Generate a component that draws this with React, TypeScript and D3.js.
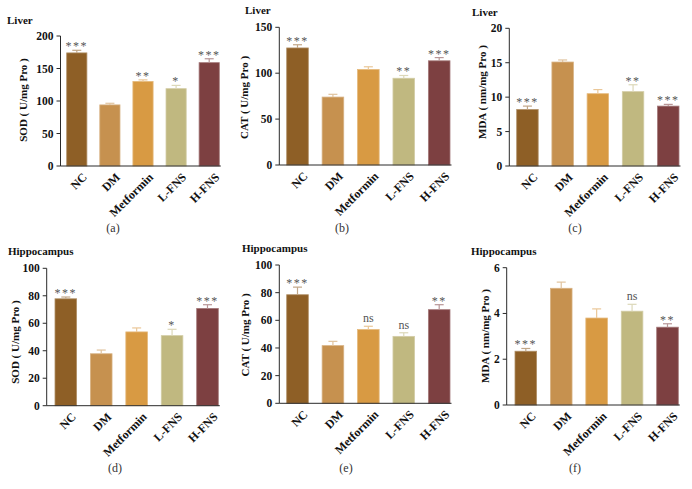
import React from "react";
import * as d3 from "d3";

const categories = ["NC", "DM", "Metformin", "L-FNS", "H-FNS"];
const barColors = ["#8E5F26", "#C6914F", "#D89A43", "#C0B880", "#7D4041"];

const liverSOD = [174, 94, 130, 119, 159];
const liverSODErr = [4, 2.5, 2.5, 5, 6];
const liverSODSig = ["***", "", "**", "*", "***"];

const liverCAT = [127.5, 74, 104, 94.5, 113.5];
const liverCATErr = [3.5, 3, 3, 3, 3.5];
const liverCATSig = ["***", "", "", "**", "***"];

const liverMDA = [8.2, 15.1, 10.5, 10.8, 8.7];
const liverMDAErr = [0.5, 0.3, 0.6, 1.0, 0.25];
const liverMDASig = ["***", "", "", "**", "***"];

const hipSOD = [77.8, 37.8, 53.7, 51, 70.8];
const hipSODErr = [1.3, 2.7, 2.9, 4.6, 2.7];
const hipSODSig = ["***", "", "", "*", "***"];

const hipCAT = [78.5, 41.7, 53.3, 48.4, 67.7];
const hipCATErr = [5.5, 3.1, 2.4, 2.6, 3.6];
const hipCATSig = ["***", "", "ns", "ns", "**"];

const hipMDA = [2.35, 5.1, 3.8, 4.1, 3.4];
const hipMDAErr = [0.12, 0.27, 0.4, 0.3, 0.15];
const hipMDASig = ["***", "", "", "ns", "**"];

const yLabels = [
  "SOD ( U/mg Pro )",
  "CAT ( U/mg Pro )",
  "MDA ( nm/mg Pro )",
  "SOD ( U/mg Pro )",
  "CAT ( U/mg Pro )",
  "MDA ( nm/mg Pro )",
];
const titles = ["Liver", "Liver", "Liver", "Hippocampus", "Hippocampus", "Hippocampus"];
const captions = ["(a)", "(b)", "(c)", "(d)", "(e)", "(f)"];
const yMax = [200, 150, 20, 100, 100, 6];
const yStep = [50, 50, 5, 20, 20, 2];
const values = [liverSOD, liverCAT, liverMDA, hipSOD, hipCAT, hipMDA];
const errors = [liverSODErr, liverCATErr, liverMDAErr, hipSODErr, hipCATErr, hipMDAErr];
const sigs = [liverSODSig, liverCATSig, liverMDASig, hipSODSig, hipCATSig, hipMDASig];

// layout (pixel geometry of each panel)
const layout = [
  { axisX: 60.5, top: 36, bot: 166, b0: 66.7, b1: 219.3, title: [7, 24], ylab: [23, 100], cap: [113, 232] },
  { axisX: 279.3, top: 27.3, bot: 165, b0: 286.7, b1: 450, title: [245, 14], ylab: [244, 97.5], cap: [342, 232] },
  { axisX: 509.3, top: 28.3, bot: 166, b0: 516.7, b1: 679, title: [472, 15.5], ylab: [482, 92], cap: [575, 232] },
  { axisX: 46.7, top: 268.3, bot: 405.7, b0: 55, b1: 218.3, title: [8, 255], ylab: [15, 342], cap: [115, 472] },
  { axisX: 279.3, top: 265, bot: 403.3, b0: 286.7, b1: 450, title: [242, 252], ylab: [245, 335], cap: [346, 472] },
  { axisX: 506.7, top: 267.7, bot: 405, b0: 515, b1: 678.3, title: [471, 255], ylab: [485, 336], cap: [575, 472] },
];

const SERIF = "'Liberation Serif', 'Times New Roman', serif";
const PI = 0.39;
const PO = PI / 2;

function Panel({ i }: { i: number }) {
  const L = layout[i];
  const y = d3.scaleLinear().domain([0, yMax[i]]).range([L.bot, L.top]);
  const s = (L.b1 - L.b0) / (4 + (1 - PI));
  const x = d3
    .scaleBand<string>()
    .domain(categories)
    .range([L.b0 - PO * s, L.b1 + PO * s])
    .paddingInner(PI)
    .paddingOuter(PO);
  const bw = x.bandwidth();
  const ticks = d3.range(0, yMax[i] + yStep[i] / 2, yStep[i]);
  const axisColor = "#2a2a2a";
  return (
    <g>
      <text x={L.title[0]} y={L.title[1]} fontFamily={SERIF} fontWeight="bold" fontSize={11} fill="#111">
        {titles[i]}
      </text>
      <text
        transform={`translate(${L.ylab[0]},${L.ylab[1]}) rotate(-90)`}
        textAnchor="middle"
        dy="0.35em"
        fontFamily={SERIF}
        fontWeight="bold"
        fontSize={11}
        fill="#111"
      >
        {yLabels[i]}
      </text>
      {categories.map((c, k) => {
        const x0 = x(c)!;
        const v = values[i][k];
        const e = errors[i][k];
        const col = barColors[k];
        const light = d3.interpolateRgb(col, "#ffffff")(0.45);
        const edge = d3.interpolateRgb(col, "#ffffff")(0.3);
        const cx = x0 + bw / 2;
        const et = y(v + e);
        const sig = sigs[i][k];
        return (
          <g key={c}>
            <rect x={x0} y={y(v)} width={bw} height={L.bot - y(v)} fill={col} stroke={edge} strokeWidth={0.8} />
            <line x1={cx} x2={cx} y1={y(v)} y2={et} stroke={light} strokeWidth={1.2} />
            <line x1={cx - 4.5} x2={cx + 4.5} y1={et} y2={et} stroke={light} strokeWidth={1.2} />
            {sig === "ns" ? (
              <text x={cx} y={et - 4} textAnchor="middle" fontFamily={SERIF} fontSize={12} fill="#555">
                ns
              </text>
            ) : sig ? (
              <text x={cx} y={et} textAnchor="middle" fontFamily={SERIF} fontSize={12} fill="#555" letterSpacing={1.5}>
                {sig}
              </text>
            ) : null}
            <text
              transform={`translate(${cx + 5},${L.bot + 6}) rotate(-45)`}
              textAnchor="end"
              dy="0.7em"
              fontFamily={SERIF}
              fontWeight="bold"
              fontSize={12}
              fill="#111"
            >
              {c}
            </text>
          </g>
        );
      })}
      <line x1={L.axisX} x2={L.axisX} y1={L.top} y2={L.bot} stroke={axisColor} strokeWidth={1} />
      <line x1={L.axisX} x2={L.b1 + 1.5} y1={L.bot} y2={L.bot} stroke={axisColor} strokeWidth={1} />
      {ticks.map((t) => (
        <g key={t}>
          <line x1={L.axisX - 4} x2={L.axisX} y1={y(t)} y2={y(t)} stroke={axisColor} strokeWidth={1} />
          <text
            x={L.axisX - 7}
            y={y(t)}
            dy="0.35em"
            textAnchor="end"
            fontFamily={SERIF}
            fontWeight="bold"
            fontSize={11.5}
            fill="#111"
          >
            {t}
          </text>
        </g>
      ))}
      <text x={L.cap[0]} y={L.cap[1]} textAnchor="middle" fontFamily={SERIF} fontSize={12} fill="#333">
        {captions[i]}
      </text>
    </g>
  );
}

export default function App() {
  return (
    <svg
      width={692}
      height={489}
      style={{ position: "absolute", left: 0, top: 0, background: "#fff" }}
    >
      <rect width={692} height={489} fill="#fff" />
      {layout.map((_, i) => (
        <Panel key={i} i={i} />
      ))}
    </svg>
  );
}
